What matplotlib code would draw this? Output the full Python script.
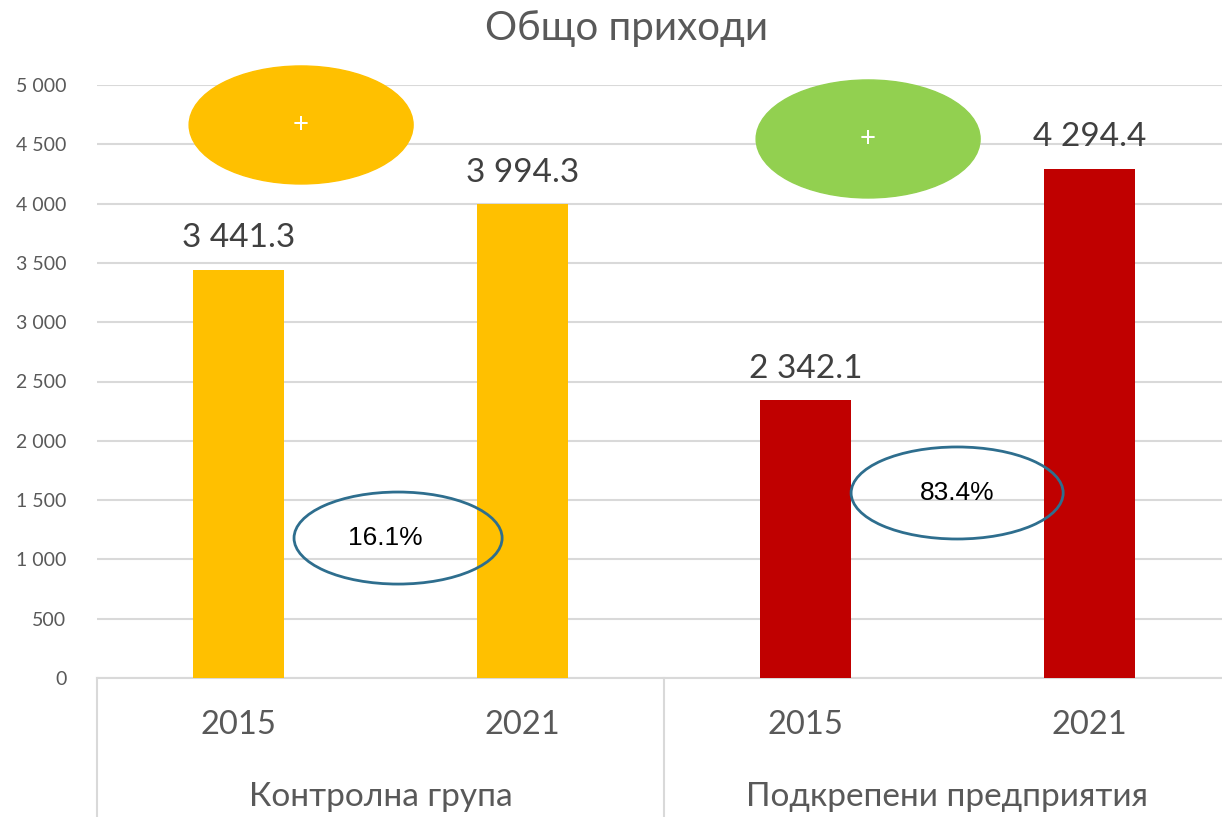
import matplotlib.pyplot as plt
from matplotlib.patches import Ellipse
import matplotlib.transforms as mtransforms

plt.rcParams['font.family'] = ['Lato', 'DejaVu Sans']

groups = ['Контролна група', 'Подкрепени предприятия']
years = ['2015', '2021', '2015', '2021']
values = [3441.3, 3994.3, 2342.1, 4294.4]
bar_colors = ['#FFC000', '#FFC000', '#C00000', '#C00000']
yticks = [0, 500, 1000, 1500, 2000, 2500, 3000, 3500, 4000, 4500, 5000]

# growth 2015 -> 2021 per group
growth = [(values[1] / values[0] - 1) * 100, (values[3] / values[2] - 1) * 100]


def fmt(v, dec=0):
    s = f'{v:,.{dec}f}'
    return s.replace(',', ' ')


fig = plt.figure(figsize=(12.22, 8.17), dpi=100)
ax = fig.add_axes([97 / 1222, 139 / 817, 1134 / 1222, 593 / 817])

x = list(range(len(values)))
ax.bar(x, values, width=0.32, color=bar_colors, zorder=3)
ax.set_xlim(-0.5, 3.5)
ax.set_ylim(0, 5000)
ax.set_yticks(yticks)
ax.set_yticklabels([fmt(t) for t in yticks], fontsize=14, color='#595959')
ax.tick_params(axis='y', length=0, pad=22)
ax.tick_params(axis='x', length=0, labelbottom=False)
ax.grid(axis='y', color='#D9D9D9', linewidth=1.5, zorder=0)
for s in ['top', 'right', 'left']:
    ax.spines[s].set_visible(False)
ax.spines['bottom'].set_color('#D9D9D9')
ax.spines['bottom'].set_linewidth(1.5)

for xi, v in zip(x, values):
    ax.annotate(fmt(v, 1), (xi, v), xytext=(0, 12), textcoords='offset points',
                ha='center', va='bottom', fontsize=24, color='#404040')

# category axis below
trans = mtransforms.blended_transform_factory(ax.transData, ax.transAxes)
for xs in [-0.5, 1.5, 3.5]:
    ax.plot([xs, xs], [0, -0.24], transform=trans, color='#D9D9D9',
            linewidth=1.5, clip_on=False)
for xi, yr in zip(x, years):
    ax.text(xi, -0.08, yr, transform=trans, ha='center', va='center',
            fontsize=23.5, color='#595959')
for gi, g in enumerate(groups):
    ax.text(gi * 2 + 0.5, -0.2, g, transform=trans, ha='center', va='center',
            fontsize=24, color='#595959')

fig.text(0.513, 0.965, 'Общо приходи', ha='center', va='center',
         fontsize=29, color='#595959')

# decorative filled ellipses with "+"
for (cx, cy), col in zip([(0.22, 4663), (2.22, 4545)], ['#FFC000', '#92D050']):
    ax.add_patch(Ellipse((cx, cy), 0.79, 995, color=col, zorder=4, clip_on=False))
    ax.text(cx, cy, '+', ha='center', va='center', color='white',
            fontsize=20, zorder=5)

# growth ellipses
for (cx, cy, w, dx), gr in zip([(0.562, 1180, 0.734, -0.045),
                                (2.534, 1560, 0.748, 0.0)], growth):
    ax.add_patch(Ellipse((cx, cy), w, 776, facecolor='none', edgecolor='#2E6E8E',
                         linewidth=2, zorder=4))
    ax.text(cx + dx, cy, f'{gr:.1f}%', ha='center', va='center', fontsize=19,
            color='black', family=['Liberation Sans', 'DejaVu Sans'], zorder=5)

fig.savefig('out.png', dpi=100)
